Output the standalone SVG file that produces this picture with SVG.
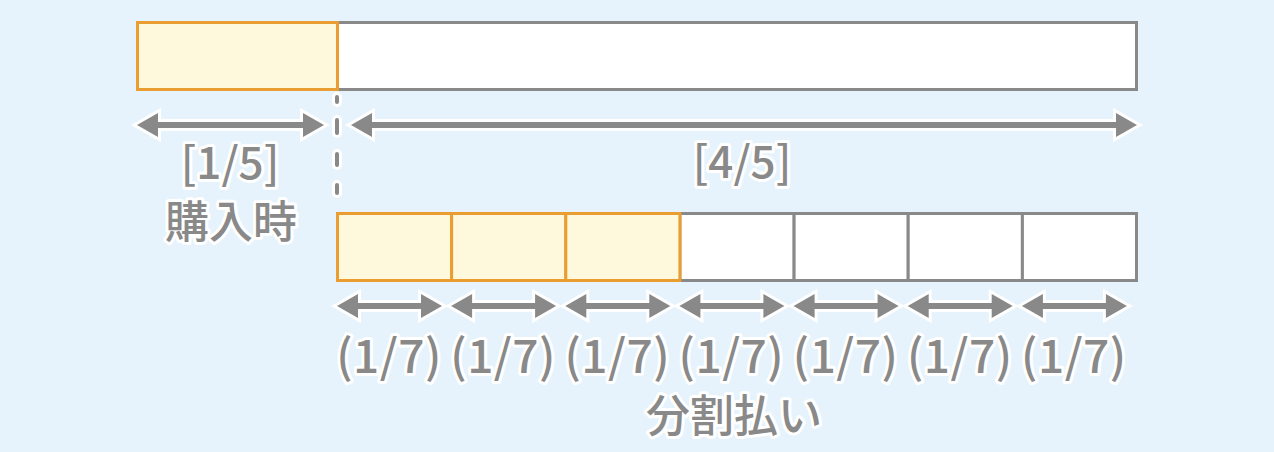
<svg xmlns="http://www.w3.org/2000/svg" width="1274" height="452" viewBox="0 0 1274 452">
<style>
.bg{fill:#E6F3FC}
.seg{fill:#FFFFFF;stroke:#898989;stroke-width:3}
.hi{fill:#FEF8DC;stroke:#EA9D30;stroke-width:3}
.arr{fill:#898989;stroke:#FFFFFF;stroke-width:6;paint-order:stroke;stroke-linejoin:miter;stroke-miterlimit:10}
.dash{fill:none;stroke-linecap:round}
.t{font-family:"Noto Sans CJK JP","Noto Sans",sans-serif;font-size:44px;fill:#898989;stroke:#FFFFFF;stroke-width:6;paint-order:stroke;stroke-linejoin:round;text-anchor:middle;font-weight:500}
.f{font-size:46px;letter-spacing:0.5px}
</style>
<rect class="bg" x="0" y="0" width="1274" height="452"/>
<g id="top-bar">
<rect class="seg" x="337.5" y="22.5" width="799" height="67"/>
<rect class="hi" x="137.5" y="22.5" width="200" height="67"/>
</g>
<g id="bottom-bar">
<rect class="seg" x="679.9" y="213.5" width="114.2" height="67"/>
<rect class="seg" x="794.1" y="213.5" width="114.1" height="67"/>
<rect class="seg" x="908.2" y="213.5" width="114.2" height="67"/>
<rect class="seg" x="1022.4" y="213.5" width="114.1" height="67"/>
<rect class="hi" x="337.5" y="213.5" width="114.1" height="67"/>
<rect class="hi" x="451.6" y="213.5" width="114.2" height="67"/>
<rect class="hi" x="565.8" y="213.5" width="114.1" height="67"/>
</g>
<g id="connectors">
<g id="divider">
<path class="dash" stroke="#FFFFFF" stroke-width="10" d="M337 97V102M337 120V133M337 154V165M337 185V193"/>
<path class="dash" stroke="#898989" stroke-width="4" d="M337 97V102M337 120V133M337 154V165M337 185V193"/>
</g>
<polygon class="arr" points="137,125 158,113 158,122 303,122 303,113 324,125 303,137 303,128 158,128 158,137"/>
<polygon class="arr" points="351,125 372,113 372,122 1116,122 1116,113 1137,125 1116,137 1116,128 372,128 372,137"/>
<polygon class="arr" points="337,306 358,294 358,303 421,303 421,294 442,306 421,318 421,309 358,309 358,318"/>
<polygon class="arr" points="451.1,306 472.1,294 472.1,303 535.1,303 535.1,294 556.1,306 535.1,318 535.1,309 472.1,309 472.1,318"/>
<polygon class="arr" points="565.3,306 586.3,294 586.3,303 649.3,303 649.3,294 670.3,306 649.3,318 649.3,309 586.3,309 586.3,318"/>
<polygon class="arr" points="679.4,306 700.4,294 700.4,303 763.4,303 763.4,294 784.4,306 763.4,318 763.4,309 700.4,309 700.4,318"/>
<polygon class="arr" points="793.6,306 814.6,294 814.6,303 877.6,303 877.6,294 898.6,306 877.6,318 877.6,309 814.6,309 814.6,318"/>
<polygon class="arr" points="907.7,306 928.7,294 928.7,303 991.7,303 991.7,294 1012.7,306 991.7,318 991.7,309 928.7,309 928.7,318"/>
<polygon class="arr" points="1021.9,306 1042.9,294 1042.9,303 1105.9,303 1105.9,294 1126.9,306 1105.9,318 1105.9,309 1042.9,309 1042.9,318"/>
</g>
<g id="labels">
<text class="t" x="230" y="179">[1/5]</text>
<text class="t" x="231" y="238">購入時</text>
<text class="t" x="742" y="178">[4/5]</text>
<text class="t f" x="389" y="373">(1/7)</text>
<text class="t f" x="503.1" y="373">(1/7)</text>
<text class="t f" x="617.3" y="373">(1/7)</text>
<text class="t f" x="731.4" y="373">(1/7)</text>
<text class="t f" x="845.6" y="373">(1/7)</text>
<text class="t f" x="959.7" y="373">(1/7)</text>
<text class="t f" x="1073.9" y="373">(1/7)</text>
<text class="t" x="734" y="432">分割払い</text>
</g>
</svg>
